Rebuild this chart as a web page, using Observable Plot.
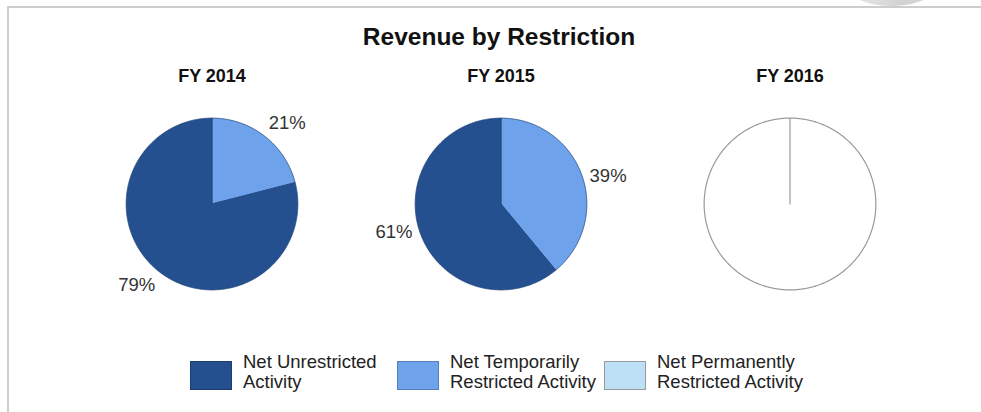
<!DOCTYPE html>
<html><head><meta charset="utf-8">
<script src="https://cdn.jsdelivr.net/npm/d3@7"></script>
<script src="https://cdn.jsdelivr.net/npm/@observablehq/plot@0.6"></script>
<style>
html,body{margin:0;padding:0;background:#fff;overflow:hidden;font-family:"Liberation Sans",Arial,sans-serif;}
#wrap{position:relative;width:981px;height:412px;overflow:hidden;background:#fff}
#mark{position:absolute;left:843px;top:-42px;width:97px;height:48px;border-radius:50%;background:linear-gradient(to right,#ececec,#d2d2d2 60%,#d8d8d8)}
#topline{position:absolute;left:7px;top:6px;width:974px;height:2px;background:#cdcdcd}
#leftline{position:absolute;left:7px;top:6px;width:2px;height:406px;background:#cdcdcd}
#title{position:absolute;left:0;top:23px;width:998px;text-align:center;font-weight:bold;font-size:24.5px;line-height:28px;color:#111}
#chart{position:absolute;left:0;top:0;width:981px;height:298px;overflow:hidden}
#legend{position:absolute;left:190px;top:361px;display:flex}
.item{width:207px;display:flex;align-items:flex-start}
.sw{width:42px;height:29px;box-sizing:border-box;margin-right:11px;flex:none}
.lab{font-size:18.5px;line-height:20px;color:#222;margin-top:-9px;white-space:nowrap}
#cover{position:absolute;left:960px;top:9px;width:21px;height:403px;background:#fff}
</style></head><body>
<div id="wrap">
  <div id="mark"></div>
  <div id="topline"></div>
  <div id="leftline"></div>
  <div id="title">Revenue by Restriction</div>
  <div id="chart"></div>
  <div id="legend"></div>
  <div id="cover"></div>
</div>
<script>
const years = ["FY 2014", "FY 2015", "FY 2016"];
const categories = ["Net Unrestricted Activity", "Net Temporarily Restricted Activity", "Net Permanently Restricted Activity"];
const legendLines = [["Net Unrestricted", "Activity"], ["Net Temporarily", "Restricted Activity"], ["Net Permanently", "Restricted Activity"]];
const unrestricted = [79, 61, 0];
const temporarily = [21, 39, 0];
const permanently = [0, 0, 0];
const colors = ["#24508f", "#6ea3ec", "#bde0f7"];

const series = [unrestricted, temporarily, permanently];
const drawOrder = [2, 1, 0]; // clockwise from 12 o'clock
const slicePts = [], emptyPts = [], labels = [];
function addArc(arr, base, a0, a1) {
  arr.push({...base, x: 0, y: 0});
  const n = Math.max(2, Math.ceil((a1 - a0) / (Math.PI / 360)));
  for (let k = 0; k <= n; k++) {
    const a = a0 + (a1 - a0) * k / n;
    arr.push({...base, x: Math.sin(a), y: Math.cos(a)});
  }
  arr.push({...base, x: 0, y: 0});
}
years.forEach((year, i) => {
  const total = d3.sum(series, s => s[i]);
  if (!total) {
    addArc(emptyPts, {year, slice: year + "-empty"}, 0, 2 * Math.PI);
    return;
  }
  let a0 = 0;
  for (const c of drawOrder) {
    const v = series[c][i];
    if (!v) continue;
    const a1 = a0 + v / total * 2 * Math.PI;
    addArc(slicePts, {year, category: categories[c], slice: year + "-" + c}, a0, a1);
    labels.push({year, angle: (a0 + a1) / 2, text: Math.round(v / total * 100) + "%"});
    a0 = a1;
  }
});

const labelR = 1.29, labelRot = 5 * Math.PI / 180;
const plot = Plot.plot({
  width: 981, height: 298,
  marginLeft: 66, marginRight: 46.5, marginTop: 109, marginBottom: 0,
  fx: {domain: years, padding: 0, axis: null},
  x: {domain: [-1.6831, 1.6831], axis: null},
  y: {domain: [-1.1, 1.1], axis: null},
  color: {domain: categories, range: colors},
  style: {fontFamily: "Liberation Sans, Arial, sans-serif", background: "transparent", overflow: "visible"},
  marks: [
    Plot.line(slicePts, {fx: "year", x: "x", y: "y", z: "slice", fill: "category", stroke: "#22467e", strokeWidth: 0.8, curve: "linear"}),
    Plot.line(emptyPts, {fx: "year", x: "x", y: "y", z: "slice", fill: "white", stroke: "#9a9a9a", strokeWidth: 1.2, curve: "linear"}),
    Plot.text(labels, {fx: "year", x: d => labelR * Math.sin(d.angle + labelRot), y: d => labelR * Math.cos(d.angle + labelRot), text: "text", fontSize: 18.5, fill: "#333"}),
    Plot.text(years, {fx: d => d, frameAnchor: "top", lineAnchor: "middle", dy: -33.5, text: d => d, fontSize: 18, fontWeight: "bold", fill: "#111"})
  ]
});
document.getElementById("chart").appendChild(plot);

const colorScale = plot.scale("color");
const legend = document.getElementById("legend");
colorScale.domain.forEach((cat, i) => {
  const item = document.createElement("div");
  item.className = "item";
  const sw = document.createElement("div");
  sw.className = "sw";
  sw.style.background = colorScale.range[i];
  sw.style.border = "1px solid " + (i === 2 ? "#9a9a9a" : d3.color(colorScale.range[i]).darker(0.7));
  const lab = document.createElement("div");
  lab.className = "lab";
  lab.innerHTML = legendLines[i].join("<br>");
  item.appendChild(sw); item.appendChild(lab);
  legend.appendChild(item);
});
</script>
</body></html>
